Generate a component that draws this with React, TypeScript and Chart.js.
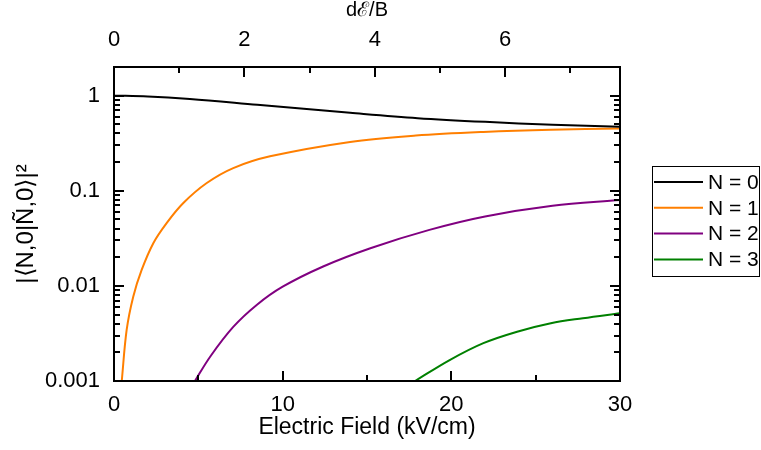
import React, { useEffect, useRef } from "react";
import { Chart, registerables } from "chart.js";

Chart.register(...registerables);

// ---- data ----
const fieldTicks = [0, 10, 20, 30];
const topTicks = [0, 2, 4, 6];
const yTicks = [0.001, 0.01, 0.1, 1];
const yTickLabels = ["0.001", "0.01", "0.1", "1"];

const seriesLabels = ["N = 0", "N = 1", "N = 2", "N = 3"];
const seriesColors = ["#000000", "#ff7f00", "#800080", "#008000"];

const n0Field = [0, 2, 4.5, 8.5, 14, 18, 22, 26, 30];
const n0Value = [1.0, 0.98, 0.92, 0.8, 0.66, 0.58, 0.53, 0.495, 0.47];

const n1Field = [0.46, 0.75, 1.14, 1.64, 2.33, 3.12, 4.11, 5.5, 7.07, 9.25, 14, 17.9, 21.9, 25.9, 30];
const n1Value = [0.001, 0.00344, 0.0077, 0.0147, 0.0281, 0.0457, 0.0743, 0.1205, 0.173, 0.23, 0.326, 0.38, 0.415, 0.438, 0.45];

const n2Field = [4.8, 5.7, 7.07, 8.46, 10.0, 12.4, 15.2, 18.7, 22, 26, 30];
const n2Value = [0.001, 0.0018, 0.0037, 0.0063, 0.0098, 0.016, 0.0249, 0.0388, 0.0537, 0.0695, 0.08];

const n3Field = [17.85, 19.9, 21.9, 23.9, 25.9, 27.8, 30];
const n3Value = [0.001, 0.00166, 0.0025, 0.0033, 0.00405, 0.00457, 0.00516];

const fieldMin = 0;
const fieldMax = 30;
const topMax = 7.76;
const yMin = 0.001;
const yMax = 2;

const FONT = "'Liberation Sans', Arial, sans-serif";

function pairs(xs: number[], ys: number[]) {
  return xs.map((x, i) => ({ x, y: ys[i] }));
}

const framePlugin = {
  id: "frameAndLegend",
  afterDatasetsDraw(chart: any) {
    const { ctx, chartArea: a, scales } = chart;
    const x = scales.x;
    const x2 = scales.x2;
    const y = scales.y;
    ctx.save();
    ctx.strokeStyle = "#000";
    ctx.lineWidth = 2;
    ctx.beginPath();
    // bottom ticks (inward)
    for (let v = fieldMin; v <= fieldMax + 1e-9; v += 5) {
      const px = Math.round(x.getPixelForValue(v));
      const len = v % 10 === 0 ? 10 : 6;
      ctx.moveTo(px, a.bottom);
      ctx.lineTo(px, a.bottom - len);
    }
    // top ticks (inward)
    for (let v = 0; v <= topMax + 1e-9; v += 1) {
      const px = Math.round(x2.getPixelForValue(v));
      const len = v % 2 === 0 ? 10 : 6;
      ctx.moveTo(px, a.top);
      ctx.lineTo(px, a.top + len);
    }
    // left and right ticks (log)
    for (let d = -3; d <= 0; d++) {
      for (let m = 1; m <= 9; m++) {
        const val = m * Math.pow(10, d);
        if (val > yMax + 1e-12) break;
        const py = Math.round(y.getPixelForValue(val));
        const len = m === 1 ? 10 : 6;
        ctx.moveTo(a.left, py);
        ctx.lineTo(a.left + len, py);
        ctx.moveTo(a.right, py);
        ctx.lineTo(a.right - len, py);
      }
    }
    ctx.stroke();
    ctx.strokeRect(a.left, a.top, a.right - a.left, a.bottom - a.top);

    // legend
    const lx = a.right + 32;
    const ly = 166;
    const lw = 107;
    const lh = 110;
    ctx.lineWidth = 1;
    ctx.strokeRect(lx + 0.5, ly + 0.5, lw, lh);
    ctx.font = `21px ${FONT}`;
    ctx.textBaseline = "middle";
    ctx.textAlign = "left";
    chart.data.datasets.forEach((ds: any, i: number) => {
      const ry = ly + 16 + i * 25.8;
      ctx.strokeStyle = ds.borderColor;
      ctx.lineWidth = 2;
      ctx.beginPath();
      ctx.moveTo(lx + 2, ry);
      ctx.lineTo(lx + 51, ry);
      ctx.stroke();
      ctx.fillStyle = "#000";
      ctx.fillText(ds.label, lx + 56, ry + 1);
    });
    ctx.restore();
  },
};

export default function App() {
  const canvasRef = useRef<HTMLCanvasElement | null>(null);

  useEffect(() => {
    const canvas = canvasRef.current;
    if (!canvas) return;
    const seriesData = [
      pairs(n0Field, n0Value),
      pairs(n1Field, n1Value),
      pairs(n2Field, n2Value),
      pairs(n3Field, n3Value),
    ];
    const chart = new Chart(canvas, {
      type: "line",
      data: {
        datasets: seriesData.map((d, i) => ({
          label: seriesLabels[i],
          data: d,
          borderColor: seriesColors[i],
          backgroundColor: seriesColors[i],
          borderWidth: 2,
          pointRadius: 0,
          fill: false,
          tension: 0.35,
          xAxisID: "x",
          yAxisID: "y",
        })),
      },
      options: {
        animation: false,
        responsive: false,
        events: [],
        layout: { padding: { left: 0, right: 141, top: 0, bottom: 0 } },
        plugins: {
          legend: { display: false },
          tooltip: { enabled: false },
        },
        scales: {
          x: {
            type: "linear",
            position: "bottom",
            min: fieldMin,
            max: fieldMax,
            grid: { display: false, drawTicks: false },
            border: { display: false },
            afterBuildTicks: (s: any) => {
              s.ticks = fieldTicks.map((v) => ({ value: v }));
            },
            afterFit: (s: any) => {
              s.height = 69;
            },
            ticks: {
              color: "#000",
              padding: 11,
              maxRotation: 0,
              font: { family: FONT, size: 22 },
              callback: (v: any) => String(v),
            },
            title: {
              display: true,
              text: "Electric Field (kV/cm)",
              color: "#000",
              font: { family: FONT, size: 23, lineHeight: 1.2 },
              padding: { top: 0, bottom: 9 },
            },
          },
          x2: {
            type: "linear",
            position: "top",
            min: 0,
            max: topMax,
            grid: { display: false, drawTicks: false },
            border: { display: false },
            afterBuildTicks: (s: any) => {
              s.ticks = topTicks.map((v) => ({ value: v }));
            },
            afterFit: (s: any) => {
              s.height = 67;
            },
            ticks: {
              color: "#000",
              padding: 14,
              maxRotation: 0,
              font: { family: FONT, size: 22 },
              callback: (v: any) => String(v),
            },
            title: {
              display: true,
              text: "d\u2130/B",
              color: "#000",
              font: { family: FONT, size: 20, lineHeight: 1 },
              padding: { top: 0, bottom: 0 },
            },
          },
          y: {
            type: "logarithmic",
            position: "left",
            min: yMin,
            max: yMax,
            grid: { display: false, drawTicks: false },
            border: { display: false },
            afterBuildTicks: (s: any) => {
              s.ticks = yTicks.map((v) => ({ value: v }));
            },
            afterFit: (s: any) => {
              s.width = 114;
            },
            ticks: {
              color: "#000",
              padding: 14,
              font: { family: FONT, size: 22 },
              callback: (v: any) => {
                const idx = yTicks.findIndex((t) => Math.abs(t - v) < t * 1e-6);
                return idx >= 0 ? yTickLabels[idx] : "";
              },
            },
            title: {
              display: true,
              text: "|\u27E8N,0|\u00D1,0\u27E9|\u00B2",
              color: "#000",
              font: { family: FONT, size: 24, lineHeight: 1.2 },
              padding: { top: 12, bottom: 0 },
            },
          },
        },
      },
      plugins: [framePlugin],
    });
    return () => chart.destroy();
  }, []);

  return (
    <div style={{ position: "fixed", left: 0, top: 0, width: 761, height: 450, background: "#fff" }}>
      <canvas ref={canvasRef} width={761} height={450} style={{ display: "block" }} />
    </div>
  );
}
